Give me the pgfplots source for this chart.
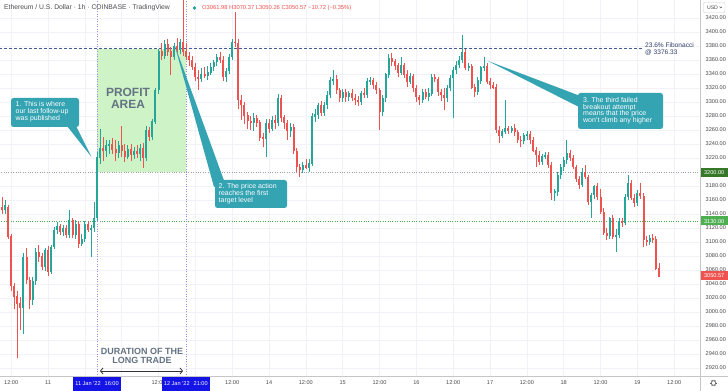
\documentclass[border=0pt]{standalone}
\usepackage{pgfplots}
\pgfplotsset{compat=1.18}
\usepackage{pgfplotstable}
\usepackage{fontspec}
\setmainfont{Liberation Sans}
\usetikzlibrary{arrows.meta}
\definecolor{cgreen}{RGB}{38,166,154}
\definecolor{cred}{RGB}{239,83,80}
\definecolor{gridc}{RGB}{240,242,248}
\definecolor{tickc}{RGB}{75,75,80}
\definecolor{fibc}{RGB}{70,90,150}
\definecolor{purpc}{RGB}{150,140,225}
\definecolor{boxg}{RGB}{206,243,198}
\definecolor{callc}{RGB}{52,163,178}
\definecolor{profc}{RGB}{100,115,130}
\definecolor{dgreen}{RGB}{52,120,40}
\definecolor{lgreen}{RGB}{76,175,80}
\definecolor{dateblue}{RGB}{20,20,230}
\newcommand{\ticks}{\fontsize{5.6}{6}\selectfont}
\pgfplotsset{candle/.style={only marks, mark=*, mark size=0pt, mark options={draw=none,fill=none}, forget plot,
  error bars/.cd, y dir=both, y explicit, error mark=none}}
\pgfplotstableread{
t o h l c
-15 3150 3165 3140 3146
-14 3146 3160 3140 3152
-13 3150 3153 3104 3108
-12 3108 3112 3030 3037
-11 3037 3042 3005 3022
-10 3022 3030 2934 3012
-9 3012 3022 2975 3006
-8 3006 3085 2968 3078
-7 3078 3092 3040 3046
-6 3046 3050 3005 3018
-5 3018 3050 3010 3044
-4 3044 3092 3038 3086
-3 3086 3096 3072 3079
-2 3079 3084 3060 3064
-1 3064 3092 3058 3088
0 3088 3094 3052 3057
1 3057 3096 3055 3093
2 3093 3122 3090 3117
3 3117 3128 3112 3122
4 3122 3126 3110 3114
5 3114 3124 3108 3120
6 3120 3124 3106 3110
7 3110 3146 3106 3131
8 3131 3135 3106 3110
9 3110 3132 3104 3126
10 3126 3130 3092 3097
11 3097 3112 3094 3104
12 3104 3130 3100 3126
13 3126 3130 3114 3117
14 3117 3124 3079 3120
15 3120 3157 3115 3134
16 3134 3228 3130 3221
17 3221 3262 3212 3234
18 3234 3250 3215 3230
19 3230 3245 3222 3238
20 3238 3246 3226 3240
21 3240 3248 3226 3232
22 3232 3246 3216 3228
23 3228 3244 3220 3238
24 3238 3266 3222 3230
25 3230 3240 3214 3222
26 3222 3238 3218 3232
27 3232 3240 3216 3224
28 3224 3236 3218 3230
29 3230 3238 3220 3226
30 3226 3240 3216 3234
31 3234 3242 3206 3220
32 3220 3266 3216 3260
33 3260 3264 3244 3250
34 3250 3275 3246 3272
35 3272 3320 3268 3317
36 3317 3376 3312 3372
37 3372 3384 3360 3366
38 3366 3388 3362 3383
39 3383 3390 3366 3372
40 3372 3378 3338 3364
41 3364 3384 3360 3380
42 3380 3392 3370 3374
43 3374 3390 3368 3385
44 3385 3450 3366 3372
45 3372 3384 3360 3365
46 3365 3372 3352 3360
47 3360 3366 3346 3350
48 3350 3356 3330 3336
49 3336 3346 3317 3333
50 3333 3348 3328 3340
51 3340 3350 3334 3338
52 3338 3352 3332 3342
53 3342 3356 3338 3350
54 3350 3360 3344 3357
55 3357 3368 3352 3364
56 3364 3372 3356 3360
57 3360 3366 3330 3336
58 3336 3348 3328 3344
59 3344 3368 3340 3364
60 3364 3390 3360 3386
61 3386 3428 3378 3384
62 3384 3390 3290 3303
63 3303 3310 3274 3296
64 3296 3300 3268 3281
65 3281 3286 3262 3273
66 3273 3280 3260 3270
67 3270 3284 3258 3277
68 3277 3282 3264 3271
69 3271 3274 3244 3249
70 3249 3256 3236 3247
71 3247 3276 3221 3270
72 3270 3275 3256 3262
73 3262 3280 3258 3274
74 3274 3282 3262 3270
75 3270 3312 3266 3306
76 3306 3310 3272 3278
77 3278 3282 3262 3270
78 3270 3274 3246 3259
79 3259 3270 3250 3264
80 3264 3268 3225 3230
81 3230 3234 3200 3207
82 3207 3212 3193 3203
83 3203 3214 3198 3210
84 3210 3218 3204 3206
85 3206 3218 3200 3212
86 3212 3284 3208 3279
87 3279 3290 3272 3282
88 3282 3299 3276 3296
89 3296 3302 3280 3285
90 3285 3300 3280 3296
91 3296 3316 3290 3310
92 3310 3336 3306 3331
93 3331 3346 3324 3333
94 3333 3338 3312 3317
95 3317 3320 3300 3306
96 3306 3318 3300 3314
97 3314 3318 3300 3307
98 3307 3316 3302 3313
99 3313 3318 3302 3306
100 3306 3312 3296 3303
101 3303 3308 3294 3300
102 3300 3316 3296 3312
103 3312 3320 3306 3310
104 3310 3334 3306 3329
105 3329 3336 3324 3331
106 3331 3334 3318 3324
107 3324 3328 3312 3317
108 3317 3320 3260 3286
109 3286 3310 3280 3306
110 3306 3342 3300 3339
111 3339 3368 3334 3363
112 3363 3370 3352 3358
113 3358 3362 3346 3352
114 3352 3356 3336 3342
115 3342 3364 3338 3353
116 3353 3356 3334 3339
117 3339 3345 3322 3329
118 3329 3342 3326 3337
119 3337 3340 3314 3320
120 3320 3324 3300 3307
121 3307 3310 3296 3303
122 3303 3318 3298 3314
123 3314 3318 3304 3308
124 3308 3320 3302 3312
125 3312 3340 3308 3336
126 3336 3340 3328 3333
127 3333 3336 3308 3314
128 3314 3318 3302 3310
129 3310 3320 3289 3306
130 3306 3324 3300 3320
131 3320 3338 3316 3334
132 3334 3350 3277 3346
133 3346 3358 3340 3353
134 3353 3366 3348 3360
135 3360 3396 3356 3371
136 3371 3376 3346 3349
137 3349 3356 3344 3351
138 3351 3354 3318 3321
139 3321 3326 3307 3314
140 3314 3336 3310 3331
141 3331 3352 3326 3349
142 3349 3364 3344 3351
143 3351 3356 3326 3329
144 3329 3334 3318 3324
145 3324 3328 3318 3321
146 3321 3326 3255 3260
147 3260 3266 3241 3252
148 3252 3262 3248 3258
149 3258 3303 3254 3262
150 3262 3266 3254 3259
151 3259 3266 3256 3263
152 3263 3268 3252 3257
153 3257 3260 3242 3246
154 3246 3252 3236 3244
155 3244 3256 3240 3253
156 3253 3258 3246 3254
157 3254 3258 3240 3246
158 3246 3250 3228 3231
159 3231 3236 3207 3224
160 3224 3230 3210 3214
161 3214 3226 3210 3223
162 3223 3228 3218 3224
163 3224 3228 3206 3210
164 3210 3214 3160 3170
165 3170 3176 3158 3172
166 3172 3200 3166 3196
167 3196 3212 3190 3207
168 3207 3222 3202 3217
169 3217 3246 3212 3227
170 3227 3232 3216 3220
171 3220 3224 3204 3207
172 3207 3210 3186 3190
173 3190 3194 3176 3182
174 3182 3206 3178 3200
175 3200 3210 3190 3193
176 3193 3196 3153 3158
177 3158 3170 3134 3167
178 3167 3182 3162 3179
179 3179 3184 3160 3164
180 3164 3176 3140 3143
181 3143 3148 3110 3113
182 3113 3120 3103 3109
183 3109 3136 3104 3134
184 3134 3138 3104 3108
185 3108 3118 3086 3110
186 3110 3134 3106 3130
187 3130 3134 3122 3127
188 3127 3168 3124 3164
189 3164 3196 3160 3184
190 3184 3188 3160 3163
191 3163 3168 3150 3156
192 3156 3174 3152 3170
193 3170 3184 3162 3166
194 3166 3170 3093 3103
195 3103 3108 3094 3101
196 3101 3110 3096 3106
197 3106 3112 3098 3104
198 3104 3108 3060 3062
199 3061.98 3070.37 3050.26 3050.57
}\candles
\begin{document}
\begin{tikzpicture}
\path[use as bounding box] (0,0) rectangle (728bp,391bp);
\fill[white] (0,0) rectangle (728bp,391bp);
\begin{axis}[
  at={(0,15bp)}, anchor=south west,
  scale only axis, width=700bp, height=376bp,
  xmin=-15.64, xmax=212.4, ymin=2908.6, ymax=3445.7,
  axis line style={draw=none}, tick style={draw=none},
  xtick={-12,0,...,204},
  xticklabels={12:00,11,,{},12:00,{},12:00,14,12:00,15,12:00,16,12:00,17,12:00,18,12:00,19,12:00},
  ytick={2920,2940,...,3180,3220,3240,...,3420},
  yticklabel pos=right,
  yticklabel style={font=\ticks, text=tickc, anchor=west, inner sep=0pt, xshift=5.5bp,
    /pgf/number format/.cd, fixed, fixed zerofill, precision=2, 1000 sep={}, assume math mode=true},
  xticklabel style={font=\ticks, text=tickc, anchor=north, inner sep=0pt, yshift=-4.5bp},
  grid=major, major grid style={draw=gridc, line width=0.6bp},
]
\addplot[fill=boxg, draw=none, forget plot] coordinates {(16,3200) (45,3200) (45,3376.33) (16,3376.33)} -- cycle;
\addplot[draw=fibc, dash pattern=on 3bp off 2bp, line width=0.6bp, forget plot] coordinates {(-16,3376.33) (193.5,3376.33)};
\addplot[draw=gray!75, dash pattern=on 0.8bp off 1.6bp, line width=0.6bp, forget plot] coordinates {(-16,3200) (213,3200)};
\addplot[draw=lgreen, dash pattern=on 0.8bp off 1.6bp, line width=0.7bp, forget plot] coordinates {(-16,3130) (213,3130)};
\addplot[draw=purpc, dash pattern=on 1bp off 1.5bp, line width=0.6bp, forget plot] coordinates {(16,2900) (16,3460)};
\addplot[draw=purpc, dash pattern=on 1bp off 1.5bp, line width=0.6bp, forget plot] coordinates {(45,2900) (45,3460)};
% wicks
\addplot[candle, error bar style={line width=0.7bp, draw=cgreen, solid}]
  table[x=t, y expr={\thisrow{c}>=\thisrow{o} ? 0.5*(\thisrow{h}+\thisrow{l}) : nan}, y error expr={0.5*(\thisrow{h}-\thisrow{l})}] {\candles};
\addplot[candle, error bar style={line width=0.7bp, draw=cred, solid}]
  table[x=t, y expr={\thisrow{c}<\thisrow{o} ? 0.5*(\thisrow{h}+\thisrow{l}) : nan}, y error expr={0.5*(\thisrow{h}-\thisrow{l})}] {\candles};
% bodies
\addplot[candle, error bar style={line width=2bp, draw=cgreen, solid}]
  table[x=t, y expr={\thisrow{c}>=\thisrow{o} ? 0.5*(\thisrow{o}+\thisrow{c}) : nan}, y error expr={0.5*abs(\thisrow{c}-\thisrow{o})+0.4}] {\candles};
\addplot[candle, error bar style={line width=2bp, draw=cred, solid}]
  table[x=t, y expr={\thisrow{c}<\thisrow{o} ? 0.5*(\thisrow{o}+\thisrow{c}) : nan}, y error expr={0.5*abs(\thisrow{c}-\thisrow{o})+0.4}] {\candles};
\end{axis}
\begin{scope}[x=1bp,y=-1bp,shift={(0,391bp)}]
  % separators
  \draw[gray!45, line width=0.6bp] (0,376) -- (728,376);
  \draw[gray!45, line width=0.6bp] (700,0) -- (700,391);
  % header
  \node[anchor=west, font=\fontsize{6.8}{8}\selectfont, text=tickc, inner sep=0] at (4,8) {Ethereum / U.S. Dollar · 1h · COINBASE · TradingView};
  \fill[cgreen] (194.5,8) circle (1.8);
  \node[anchor=west, font=\fontsize{5.8}{7}\selectfont, text=cred, inner sep=0] at (202,8) {O3061.98 H3070.37 L3050.26 C3050.57 −10.72 (−0.35\%)};
  % USD box
  \draw[gray!40, line width=0.4bp, rounded corners=1bp] (703.5,2.5) rectangle (725,12.5);
  \node[font=\fontsize{5.2}{6}\selectfont, text=tickc, inner sep=0] at (712.5,7.6) {USD};
  \draw[tickc, line width=0.4bp] (719.5,6.6) -- (720.8,8) -- (722.1,6.6);
  % gear
  \draw[gray!70!black, line width=0.6bp] (713.5,383) circle (2.3);
  \foreach \a in {0,60,...,300} {\draw[gray!70!black, line width=0.9bp] (713.5,383) ++(\a:2.3) -- ++(\a:1);}
  % price labels
  \fill[dgreen] (701,168) rectangle (727.5,177);
  \node[font=\ticks, text=white, inner sep=0] at (714.2,172.6) {3200.00};
  \fill[lgreen] (701,216.5) rectangle (727.5,225.5);
  \node[font=\ticks, text=white, inner sep=0] at (714.2,221.1) {3130.00};
  \fill[cred] (701,271) rectangle (727.5,280);
  \node[font=\ticks, text=white, inner sep=0] at (714.2,275.6) {3050.57};
  % fib label
  \node[anchor=north west, align=left, font=\fontsize{6.6}{7}\selectfont, text=fibc!70!black, inner sep=0] at (645,42.5) {23.6\% Fibonacci\\@ 3376.33};
  % profit area text
  \node[font=\fontsize{12}{12}\selectfont\bfseries, text=profc, align=center, inner sep=0] at (128,98) {PROFIT\\AREA};
  % callout 1
  \fill[callc, rounded corners=2.5bp] (11,98) rectangle (79,127);
  \fill[callc] (67,126) -- (76,126) -- (91.5,157) -- cycle;
  \node[anchor=north west, align=left, font=\fontsize{7}{7}\selectfont, text=white, inner sep=0] at (15.5,101.5) {1. This is where\\our last follow-up\\was published};
  % callout 2
  \fill[callc, rounded corners=2.5bp] (215,180) rectangle (287,208);
  \fill[callc] (214,187) -- (224,180.5) -- (174,43) -- cycle;
  \node[anchor=north west, align=left, font=\fontsize{7}{7}\selectfont, text=white, inner sep=0] at (218.5,183.5) {2. The price action\\reaches the first\\target level};
  % callout 3
  \fill[callc, rounded corners=2.5bp] (578,93) rectangle (663,129);
  \fill[callc] (579,95.5) -- (579,107) -- (488,61) -- cycle;
  \node[anchor=north west, align=left, font=\fontsize{7}{6.9}\selectfont, text=white, inner sep=0] at (583,97) {3. The third failed\\breakout attempt\\means that the price\\won't climb any higher};
  % duration
  \node[font=\fontsize{9}{9.6}\selectfont\bfseries, text=profc, align=center, inner sep=0] at (142,356) {DURATION OF THE\\LONG TRADE};
  \draw[{Straight Barb[length=2.5bp,width=6bp]}-{Straight Barb[length=2.5bp,width=6bp]}, line width=0.8bp, draw=gray!40!black] (100,371) -- (183,371);
  % date boxes
  \fill[dateblue] (73,377) rectangle (121,391);
  \node[font=\ticks, text=white, inner sep=0] at (97,383.5) {11 Jan '22\hspace{4bp}16:00};
  \fill[dateblue] (162,377) rectangle (209.5,391);
  \node[font=\ticks, text=white, inner sep=0] at (185.8,383.5) {12 Jan '22\hspace{4bp}21:00};
\end{scope}
\end{tikzpicture}
\end{document}
